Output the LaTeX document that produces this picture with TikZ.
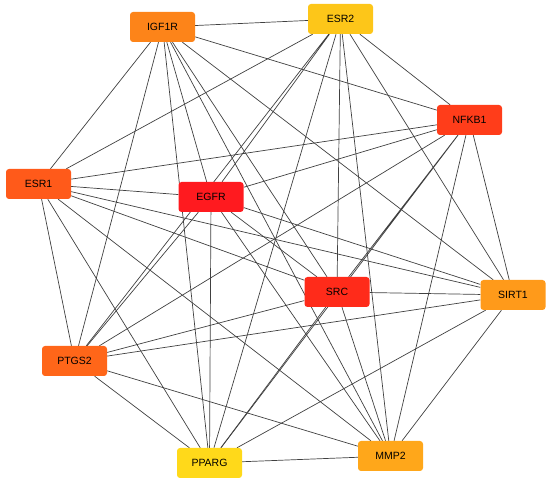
\documentclass[tikz,border=0pt]{standalone}
\usepackage{fontspec}
\setmainfont{Liberation Sans}
\usepackage{tikz}
\usetikzlibrary{backgrounds}
\definecolor{cIGF}{HTML}{FD8419}
\definecolor{cESRb}{HTML}{FDC619}
\definecolor{cNFKB}{HTML}{FF3D1A}
\definecolor{cESRa}{HTML}{FF5A1A}
\definecolor{cEGFR}{HTML}{FF1A1F}
\definecolor{cSRC}{HTML}{FF2B1A}
\definecolor{cSIRT}{HTML}{FF9A1A}
\definecolor{cPTGS}{HTML}{FF6619}
\definecolor{cPPARG}{HTML}{FFD91A}
\definecolor{cMMP}{HTML}{FFA71A}
\tikzstyle{gene}=[draw=none, rounded corners=3pt, minimum width=65pt, minimum height=30pt, inner sep=0pt, font=\fontsize{10.5}{12}\selectfont]
\tikzstyle{link}=[line width=0.7pt, black!75]

\begin{document}
\begin{tikzpicture}[x=1pt, y=-1pt]
        \useasboundingbox (0,0) rectangle (550,484);
        \node[gene, fill=cIGF] (IGF1R) at (162.5, 27) {IGF1R};
        \node[gene, fill=cESRb] (ESR2) at (340.5, 19) {ESR2};
        \node[gene, fill=cNFKB] (NFKB1) at (469.5, 120) {NFKB1};
        \node[gene, fill=cESRa] (ESR1) at (38.5, 184) {ESR1};
        \node[gene, fill=cEGFR] (EGFR) at (211, 197) {EGFR};
        \node[gene, fill=cSRC] (SRC) at (337, 292) {SRC};
        \node[gene, fill=cSIRT] (SIRT1) at (513, 295) {SIRT1};
        \node[gene, fill=cPTGS] (PTGS2) at (74.5, 361) {PTGS2};
        \node[gene, fill=cPPARG] (PPARG) at (209.5, 463) {PPARG};
        \node[gene, fill=cMMP] (MMP2) at (390.5, 456) {MMP2};
        \begin{scope}[on background layer]
        \draw[link] (IGF1R) -- (ESR2) (IGF1R) -- (NFKB1) (IGF1R) -- (ESR1) (IGF1R) -- (EGFR) (IGF1R) -- (SRC) (IGF1R) -- (SIRT1) (IGF1R) -- (PTGS2) (IGF1R) -- (PPARG) (IGF1R) -- (MMP2);
        \draw[link] (ESR2) -- (NFKB1) (ESR2) -- (ESR1) (ESR2) -- (EGFR) (ESR2) -- (SRC) (ESR2) -- (SIRT1) (ESR2) -- (PTGS2) (ESR2) -- (PPARG) (ESR2) -- (MMP2);
        \draw[link] (NFKB1) -- (ESR1) (NFKB1) -- (EGFR) (NFKB1) -- (SRC) (NFKB1) -- (SIRT1) (NFKB1) -- (PTGS2) (NFKB1) -- (PPARG) (NFKB1) -- (MMP2);
        \draw[link] (ESR1) -- (EGFR) (ESR1) -- (SRC) (ESR1) -- (SIRT1) (ESR1) -- (PTGS2) (ESR1) -- (PPARG) (ESR1) -- (MMP2);
        \draw[link] (EGFR) -- (SRC) (EGFR) -- (SIRT1) (EGFR) -- (PTGS2) (EGFR) -- (PPARG) (EGFR) -- (MMP2);
        \draw[link] (SRC) -- (SIRT1) (SRC) -- (PTGS2) (SRC) -- (PPARG) (SRC) -- (MMP2);
        \draw[link] (SIRT1) -- (PTGS2) (SIRT1) -- (PPARG) (SIRT1) -- (MMP2);
        \draw[link] (PTGS2) -- (PPARG) (PTGS2) -- (MMP2);
        \draw[link] (PPARG) -- (MMP2);
        \end{scope}
    \end{tikzpicture}
\end{document}
